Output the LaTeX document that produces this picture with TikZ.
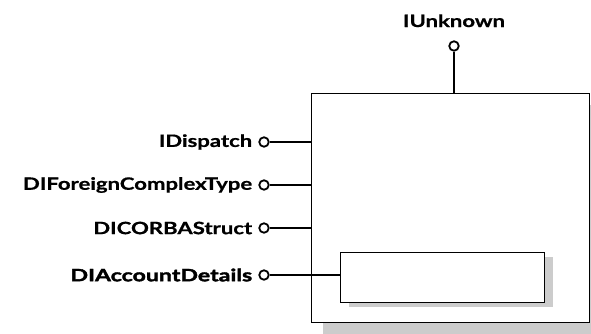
\documentclass[tikz,border=0pt]{standalone}
\usepackage{fontspec}
\setsansfont{Lato}[FakeStretch=1.3,BoldFeatures={FakeBold=0.8}]
\newfontfamily\heavyfont{Lato}[FakeStretch=1.36,BoldFeatures={FakeBold=2.2}]
\usepackage{tikz}
\usetikzlibrary{positioning,calc}
\definecolor{shadowgray}{HTML}{CCCCCC}

\begin{document}
\begin{tikzpicture}[x=1pt,y=-1pt,font=\sffamily\bfseries\fontsize{17}{20}\selectfont,
  box/.style={draw,line width=.9pt,fill=white,inner sep=0pt,anchor=north west},
  lolly/.style={circle,draw,line width=1.8pt,fill=white,minimum size=9.5pt,inner sep=0pt},
  stem/.style={line width=2.4pt},
  iname/.style={inner sep=1pt}]
\useasboundingbox (0,0) rectangle (591,334);
\fill[shadowgray] (323,105) rectangle (601,334);
\node[box,minimum width=278pt,minimum height=229pt] (comp) at (311,93) {};
\fill[shadowgray] (349,257) rectangle (553,307);
\node[box,minimum width=204pt,minimum height=50pt] (inner) at (340,252) {};
\node[lolly] (unk) at (454,46) {};
\node[iname,above=12pt of unk] {IUnknown};
\draw[stem] (unk) -- (unk |- comp.north);
\foreach \y/\nm/\lab in {142/disp/IDispatch,185/foreign/DIForeignComplexType,228/corba/DICORBAStruct}{
  \node[lolly] (\nm) at (264,\y) {};
  \node[iname,left=5pt of \nm] {\lab};
  \draw[stem] (\nm) -- (\nm -| comp.west);}
\node[lolly] (acct) at (264,275) {};
\node[iname,left=5pt of acct,font=\heavyfont\bfseries\fontsize{17}{20}\selectfont] {DIAccountDetails};
\draw[stem] (acct) -- (acct -| inner.west);
\end{tikzpicture}
\end{document}
